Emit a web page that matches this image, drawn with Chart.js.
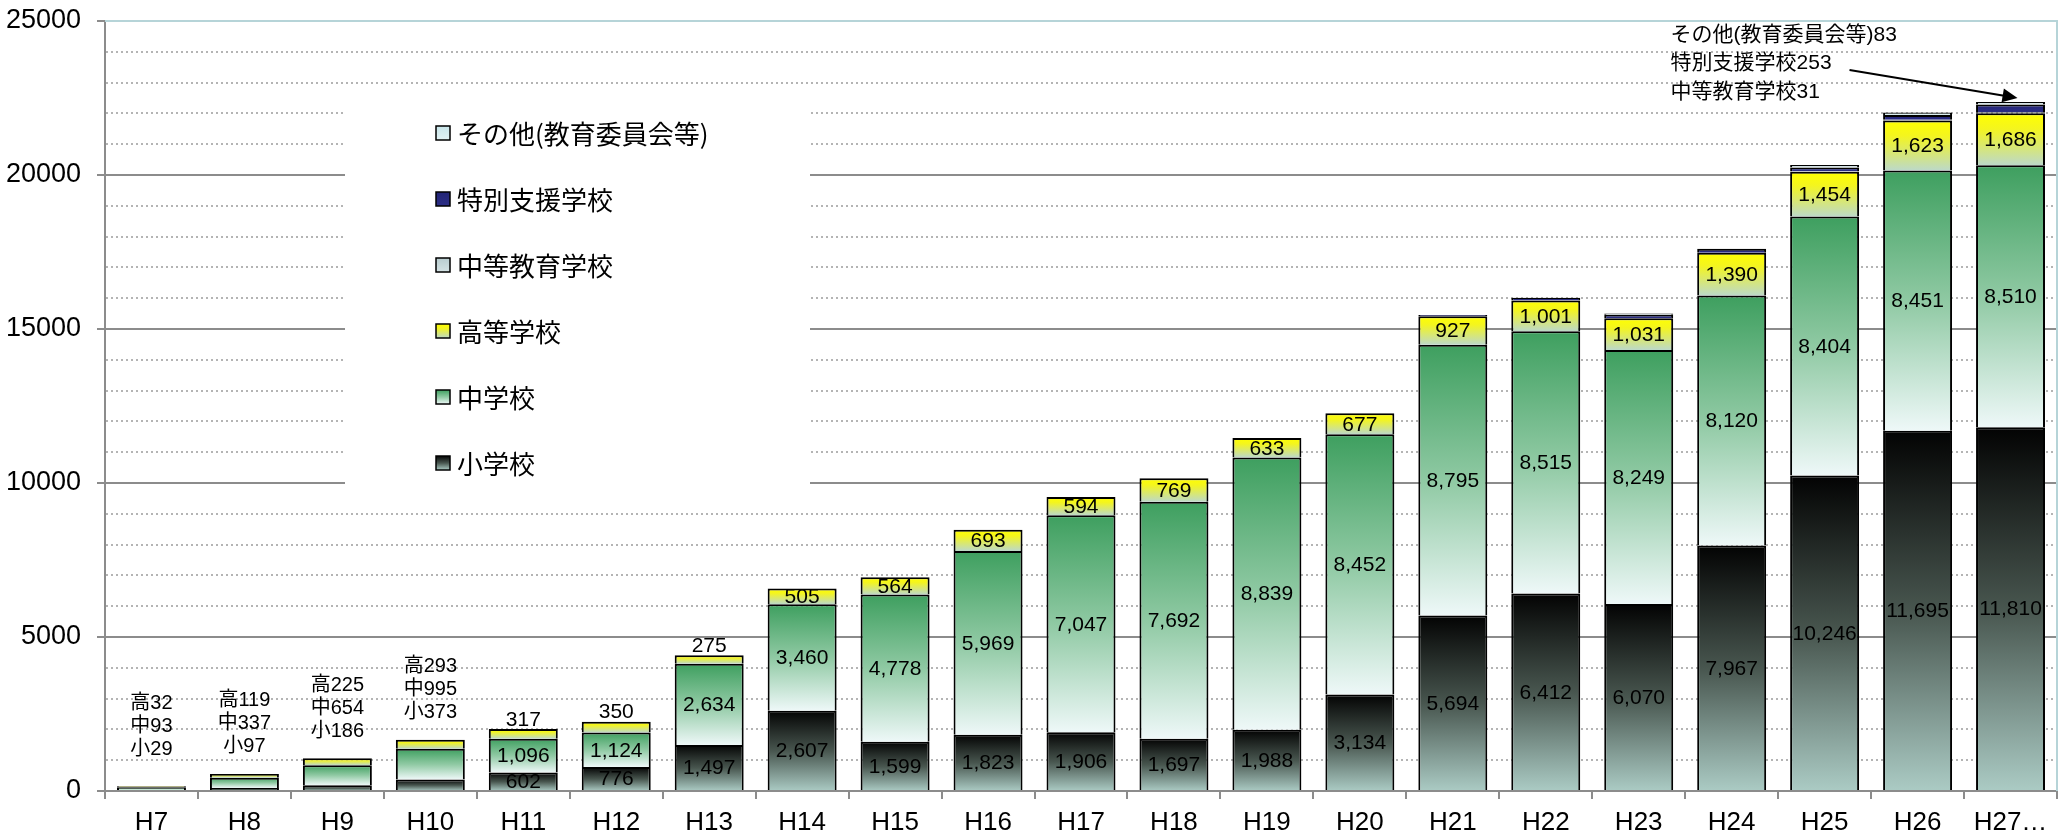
<!DOCTYPE html>
<html>
<head>
<meta charset="utf-8">
<script src="https://cdn.jsdelivr.net/npm/chart.js@4.4.0/dist/chart.umd.min.js"></script>
<style>
html, body { margin: 0; padding: 0; background: #fff; }
#wrap { width: 2059px; height: 834px; }
</style>
</head>
<body>
<div id="wrap"><canvas id="teacherChart" width="2059" height="834"></canvas></div>
<script>
// Data
const years = ['H7', 'H8', 'H9', 'H10', 'H11', 'H12', 'H13', 'H14', 'H15', 'H16', 'H17',
    'H18', 'H19', 'H20', 'H21', 'H22', 'H23', 'H24', 'H25', 'H26', 'H27…'];
const elementary = [29, 97, 186, 373, 602, 776, 1497, 2607, 1599, 1823, 1906,
    1697, 1988, 3134, 5694, 6412, 6070, 7967, 10246, 11695, 11810];
const juniorHigh = [93, 337, 654, 995, 1096, 1124, 2634, 3460, 4778, 5969, 7047,
    7692, 8839, 8452, 8795, 8515, 8249, 8120, 8404, 8451, 8510];
const highSchool = [32, 119, 225, 293, 317, 350, 275, 505, 564, 693, 594,
    769, 633, 677, 927, 1001, 1031, 1390, 1454, 1623, 1686];
const secondary = [null, null, null, null, null, null, null, null, null, null, null,
    null, null, null, null, null, null, null, 20, 25, 31];
const special = [null, null, null, null, null, null, null, null, null, null, null,
    null, null, null, 40, 90, 110, 130, 120, 150, 253];
const others = [null, null, null, null, null, null, null, null, null, null, null,
    null, null, null, null, null, 40, null, 80, 85, 83];
const yTicks = [0, 5000, 10000, 15000, 20000, 25000];

// years whose values are written as a small block above the bar
const blockNoteYears = ['H7', 'H8', 'H9', 'H10'];
// years whose high school value sits above the bar
const highAboveYears = ['H11', 'H12', 'H13'];

const FONT = '"Liberation Sans", Arial, "Noto Sans CJK JP", sans-serif';
const JP_FONT = '"Liberation Sans", "Noto Sans CJK JP", sans-serif';

const series = [
    { label: '小学校', data: elementary, stops: [[0, '#030303'], [0.5, '#48564f'], [1, '#abcbc4']] },
    { label: '中学校', data: juniorHigh, stops: [[0, '#3e9f5f'], [0.5, '#8fc9a3'], [1, '#eef8f8']] },
    { label: '高等学校', data: highSchool, stops: [[0, '#ffff00'], [0.3, '#f4f51e'], [1, '#bcd9c9']] },
    { label: '中等教育学校', data: secondary, stops: [[0, '#b8cccf'], [1, '#d4e2e4']] },
    { label: '特別支援学校', data: special, stops: [[0, '#222475'], [1, '#2c2e86']] },
    { label: 'その他(教育委員会等)', data: others, stops: [[0, '#c8e6ea'], [1, '#e2f2f4']] }
];

function makeGradient(c, stops, top, bottom) {
    const g = c.createLinearGradient(0, top, 0, bottom === top ? top + 1 : bottom);
    stops.forEach(s => g.addColorStop(s[0], s[1]));
    return g;
}

function fmt(v) {
    return v.toLocaleString('en-US');
}

const datasets = series.map((s, si) => ({
    label: s.label,
    data: s.data,
    borderColor: '#000',
    borderWidth: 2,
    borderSkipped: 'start',
    backgroundColor: (ctx) => {
        const chart = ctx.chart;
        if (ctx.type !== 'data' || !chart.chartArea) return s.stops[0][1];
        const y = chart.scales.y;
        let base = 0;
        for (let k = 0; k < si; k++) base += series[k].data[ctx.dataIndex] || 0;
        const v = ctx.raw || 0;
        return makeGradient(chart.ctx, s.stops, y.getPixelForValue(base + v), y.getPixelForValue(base));
    }
}));

// Grid, plot frame and legend box
const backdropPlugin = {
    id: 'backdrop',
    beforeDatasetsDraw(chart) {
        const { ctx, chartArea: a, scales } = chart;
        const y = scales.y;
        ctx.save();
        for (let v = 1000; v < 25000; v += 1000) {
            const py = Math.round(y.getPixelForValue(v));
            ctx.beginPath();
            if (v % 5000 === 0) {
                ctx.setLineDash([]);
                ctx.strokeStyle = '#8c8c8c';
            } else {
                ctx.setLineDash([2, 3]);
                ctx.strokeStyle = '#b4b4b4';
            }
            ctx.lineWidth = 2;
            ctx.moveTo(a.left + 1, py);
            ctx.lineTo(a.right, py);
            ctx.stroke();
        }
        ctx.setLineDash([]);
        // top and right frame
        ctx.strokeStyle = '#b6d4d8';
        ctx.lineWidth = 2;
        ctx.beginPath();
        ctx.moveTo(a.left, a.top);
        ctx.lineTo(a.right, a.top);
        ctx.lineTo(a.right, a.bottom);
        ctx.stroke();

        // legend box
        const bx = a.left + 240, by = a.top + 77;
        ctx.fillStyle = '#fff';
        ctx.fillRect(bx, by, 465, 400);
        const sqX = a.left + 331;
        const rowY0 = a.top + 112;
        const legendItems = series.slice().reverse();
        ctx.font = '26px "Noto Sans CJK JP", sans-serif';
        ctx.textBaseline = 'middle';
        ctx.textAlign = 'left';
        legendItems.forEach((s, i) => {
            const ry = rowY0 + i * 66;
            ctx.fillStyle = makeGradient(ctx, s.stops, ry - 7, ry + 7);
            ctx.fillRect(sqX, ry - 7, 14, 14);
            ctx.strokeStyle = '#000';
            ctx.lineWidth = 1.5;
            ctx.strokeRect(sqX, ry - 7, 14, 14);
            ctx.fillStyle = '#000';
            ctx.fillText(s.label, sqX + 21, ry + 1);
        });
        ctx.restore();
    }
};

// Value labels and notes
const labelPlugin = {
    id: 'valueLabels',
    afterDatasetsDraw(chart) {
        const { ctx } = chart;
        const metas = [0, 1, 2, 3, 4, 5].map(i => chart.getDatasetMeta(i));
        ctx.save();
        ctx.fillStyle = '#000';
        ctx.textAlign = 'center';
        ctx.textBaseline = 'middle';

        years.forEach((yr, j) => {
            const barX = metas[0].data[j].x;
            let top = metas[0].data[j].y;
            metas.forEach(m => {
                const el = m.data[j];
                if (el && !el.skip && el.y < top) top = el.y;
            });
            if (blockNoteYears.includes(yr)) {
                ctx.font = '20px ' + JP_FONT;
                const lastY = Math.min(top - 27, chart.chartArea.bottom - 42);
                const lines = ['高' + highSchool[j], '中' + juniorHigh[j], '小' + elementary[j]];
                lines.forEach((t, k) => ctx.fillText(t, barX, lastY - (2 - k) * 23));
                return;
            }
            ctx.font = '21px ' + FONT;
            [0, 1, 2].forEach(si => {
                const el = metas[si].data[j];
                const v = series[si].data[j];
                let cy = (el.y + el.base) / 2;
                if (si === 2 && highAboveYears.includes(yr)) cy = el.y - 10;
                ctx.fillText(fmt(v), barX, cy + 1);
            });
        });

        // note for the last year
        const last = years.length - 1;
        const lastEl = metas[0].data[last];
        let lastTop = lastEl.y;
        metas.forEach(m => {
            const el = m.data[last];
            if (el && !el.skip && el.y < lastTop) lastTop = el.y;
        });
        ctx.font = '21px ' + JP_FONT;
        ctx.textAlign = 'left';
        const noteX = lastEl.x - 340;
        ctx.fillText('その他(教育委員会等)' + others[last], noteX, lastTop - 67);
        ctx.fillText('特別支援学校' + special[last], noteX, lastTop - 39);
        ctx.fillText('中等教育学校' + secondary[last], noteX, lastTop - 10);

        const ex = lastEl.x + 7, ey = lastTop - 4;
        const sx = lastEl.x - 161, sy = lastTop - 32;
        const ang = Math.atan2(ey - sy, ex - sx);
        ctx.strokeStyle = '#000';
        ctx.lineWidth = 2;
        ctx.beginPath();
        ctx.moveTo(sx, sy);
        ctx.lineTo(ex - 12 * Math.cos(ang), ey - 12 * Math.sin(ang));
        ctx.stroke();
        ctx.beginPath();
        ctx.moveTo(ex, ey);
        ctx.lineTo(ex - 15 * Math.cos(ang) + 7 * Math.sin(ang), ey - 15 * Math.sin(ang) - 7 * Math.cos(ang));
        ctx.lineTo(ex - 15 * Math.cos(ang) - 7 * Math.sin(ang), ey - 15 * Math.sin(ang) + 7 * Math.cos(ang));
        ctx.closePath();
        ctx.fill();
        ctx.restore();
    }
};

const chartCtx = document.getElementById('teacherChart').getContext('2d');
const teacherChart = new Chart(chartCtx, {
    type: 'bar',
    data: {
        labels: years,
        datasets: datasets
    },
    options: {
        responsive: false,
        animation: false,
        devicePixelRatio: 1,
        layout: {
            padding: { top: 21, right: 2, left: 0, bottom: 0 }
        },
        datasets: {
            bar: {
                categoryPercentage: 1,
                barPercentage: 0.742
            }
        },
        plugins: {
            legend: { display: false },
            tooltip: { enabled: false }
        },
        scales: {
            x: {
                stacked: true,
                grid: {
                    drawOnChartArea: false,
                    tickLength: 8,
                    color: '#8c8c8c',
                    lineWidth: 2
                },
                border: { color: '#8c8c8c', width: 2 },
                ticks: {
                    color: '#000',
                    padding: 8,
                    maxRotation: 0,
                    autoSkip: false,
                    font: { size: 26, family: FONT }
                },
                afterFit(scale) {
                    scale.height = 43;
                    scale.paddingLeft = 0;
                    scale.paddingRight = 0;
                }
            },
            y: {
                stacked: true,
                min: 0,
                max: 25000,
                afterBuildTicks(scale) {
                    scale.ticks = yTicks.map(v => ({ value: v }));
                },
                grid: {
                    drawOnChartArea: false,
                    tickLength: 8,
                    color: '#8c8c8c',
                    lineWidth: 2
                },
                border: { color: '#8c8c8c', width: 2 },
                ticks: {
                    color: '#000',
                    padding: 16,
                    font: { size: 27, family: FONT },
                    callback: (v) => String(v)
                },
                afterFit(scale) {
                    scale.width = 105;
                    scale.paddingTop = 0;
                    scale.paddingBottom = 0;
                }
            }
        }
    },
    plugins: [backdropPlugin, labelPlugin]
});
</script>
</body>
</html>
